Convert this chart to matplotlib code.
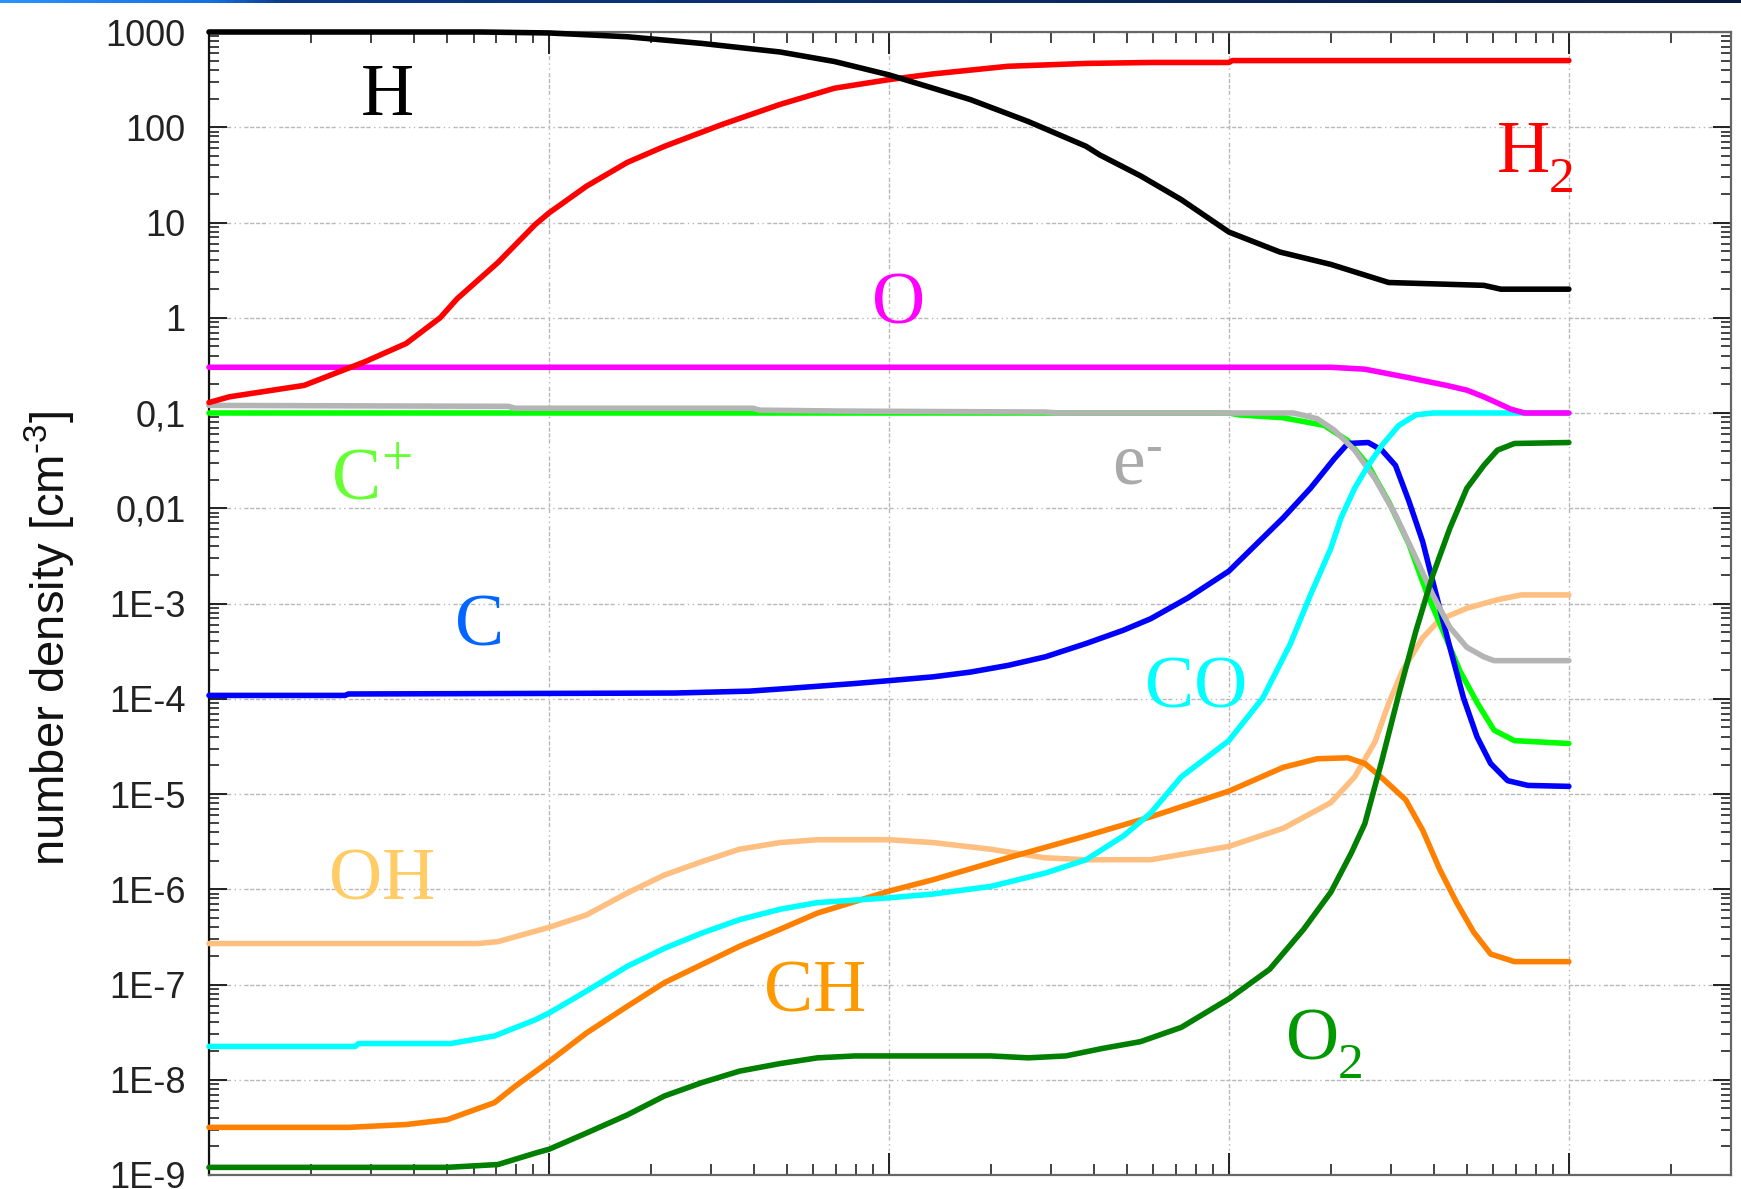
import numpy as np
import matplotlib
matplotlib.use("Agg")
import matplotlib.pyplot as plt
from matplotlib.ticker import FixedLocator, LogLocator, NullFormatter
from matplotlib.colors import LinearSegmentedColormap

# ---------------- data (log10 x, log10 number density) ----------------
H_x = [0, 0.8, 1.0, 1.23, 1.45, 1.68, 1.84, 2.0, 2.13, 2.24, 2.41, 2.58, 2.62, 2.74, 2.86,
       2.93, 3.0, 3.15, 3.30, 3.47, 3.75, 3.80, 4.0]
H_n = [3.0, 3.0, 2.99, 2.95, 2.88, 2.79, 2.69, 2.55, 2.41, 2.29, 2.06, 1.80, 1.71, 1.49, 1.24,
       1.07, 0.90, 0.69, 0.56, 0.37, 0.34, 0.30, 0.30]

H2_x = [0, 0.06, 0.28, 0.46, 0.58, 0.68, 0.73, 0.85, 0.96, 1.0, 1.11, 1.23, 1.34, 1.51, 1.68,
        1.84, 2.0, 2.13, 2.35, 2.58, 2.77, 3.0, 3.01, 4.0]
H2_n = [-0.89, -0.83, -0.71, -0.46, -0.27, 0.0, 0.20, 0.58, 0.98, 1.10, 1.38, 1.63, 1.80, 2.03,
        2.24, 2.41, 2.50, 2.56, 2.64, 2.67, 2.68, 2.68, 2.70, 2.70]

O_x = [0, 3.3, 3.4, 3.53, 3.64, 3.70, 3.75, 3.83, 3.87, 4.0]
O_n = [-0.52, -0.52, -0.54, -0.63, -0.71, -0.76, -0.83, -0.96, -1.0, -1.0]

Cp_x = [0, 3.0, 3.03, 3.16, 3.28, 3.35, 3.41, 3.47, 3.53, 3.58, 3.63, 3.68, 3.73, 3.78, 3.84, 4.0]
Cp_n = [-1.0, -1.0, -1.02, -1.05, -1.13, -1.29, -1.55, -1.93, -2.38, -2.87, -3.29, -3.71, -4.04,
        -4.33, -4.44, -4.47]

e_x = [0, 0.88, 0.9, 1.6, 1.62, 1.87, 2.46, 2.5, 3.19, 3.26, 3.31, 3.37, 3.43, 3.49, 3.55, 3.60,
       3.65, 3.70, 3.75, 3.78, 4.0]
e_n = [-0.92, -0.93, -0.95, -0.95, -0.97, -0.98, -0.99, -1.0, -1.0, -1.06, -1.18, -1.39, -1.69,
       -2.07, -2.52, -2.91, -3.25, -3.46, -3.56, -3.60, -3.60]

C_x = [0, 0.40, 0.41, 1.37, 1.59, 1.71, 1.9, 2.0, 2.13, 2.24, 2.35, 2.46, 2.58, 2.69, 2.77, 2.88,
       3.0, 3.06, 3.16, 3.24, 3.31, 3.35, 3.41, 3.45, 3.49, 3.53, 3.57, 3.61, 3.65, 3.69, 3.73,
       3.77, 3.82, 3.88, 4.0]
C_n = [-3.965, -3.965, -3.95, -3.94, -3.92, -3.89, -3.84, -3.81, -3.77, -3.72, -3.65, -3.56, -3.42,
       -3.28, -3.16, -2.94, -2.66, -2.45, -2.10, -1.79, -1.48, -1.32, -1.31, -1.39, -1.55, -1.93,
       -2.35, -2.91, -3.46, -3.99, -4.40, -4.68, -4.86, -4.91, -4.92]

CO_x = [0, 0.43, 0.44, 0.71, 0.84, 0.96, 1.0, 1.11, 1.23, 1.34, 1.45, 1.56, 1.68, 1.79, 2.0, 2.13,
        2.30, 2.46, 2.58, 2.69, 2.77, 2.86, 3.0, 3.10, 3.18, 3.24, 3.30, 3.33, 3.37, 3.41, 3.45,
        3.50, 3.55, 3.60, 4.0]
CO_n = [-7.65, -7.65, -7.62, -7.62, -7.54, -7.37, -7.30, -7.07, -6.81, -6.62, -6.46, -6.32, -6.21,
        -6.14, -6.09, -6.05, -5.97, -5.83, -5.69, -5.44, -5.20, -4.82, -4.44, -3.99, -3.43, -2.91,
        -2.42, -2.10, -1.79, -1.55, -1.34, -1.13, -1.02, -1.0, -1.0]

CH_x = [0, 0.41, 0.58, 0.70, 0.84, 0.90, 1.0, 1.11, 1.23, 1.34, 1.45, 1.56, 1.68, 1.79, 2.0, 2.13,
        2.35, 2.58, 2.77, 3.0, 3.16, 3.26, 3.35, 3.40, 3.45, 3.52, 3.57, 3.62, 3.67, 3.72, 3.77,
        3.84, 4.0]
CH_n = [-8.50, -8.50, -8.47, -8.42, -8.24, -8.07, -7.81, -7.51, -7.23, -6.98, -6.79, -6.60, -6.42,
        -6.25, -6.02, -5.90, -5.67, -5.44, -5.24, -4.97, -4.72, -4.63, -4.62, -4.68, -4.83, -5.06,
        -5.38, -5.79, -6.14, -6.45, -6.68, -6.76, -6.76]

OH_x = [0, 0.79, 0.85, 0.96, 1.0, 1.11, 1.23, 1.34, 1.45, 1.56, 1.68, 1.79, 2.0, 2.13, 2.30, 2.46,
        2.58, 2.77, 3.0, 3.16, 3.30, 3.37, 3.43, 3.47, 3.51, 3.57, 3.62, 3.70, 3.79, 3.86, 4.0]
OH_n = [-6.57, -6.57, -6.55, -6.44, -6.40, -6.27, -6.04, -5.85, -5.71, -5.58, -5.51, -5.48, -5.48,
        -5.51, -5.58, -5.67, -5.69, -5.69, -5.55, -5.36, -5.09, -4.82, -4.45, -4.05, -3.71, -3.36,
        -3.17, -3.05, -2.96, -2.91, -2.91]

O2_x = [0, 0.70, 0.85, 0.96, 1.0, 1.11, 1.23, 1.34, 1.45, 1.56, 1.68, 1.79, 1.90, 2.30, 2.41, 2.52,
        2.63, 2.74, 2.86, 3.0, 3.12, 3.22, 3.30, 3.36, 3.40, 3.45, 3.50, 3.55, 3.60, 3.65, 3.70,
        3.75, 3.79, 3.84, 4.0]
O2_n = [-8.92, -8.92, -8.89, -8.77, -8.73, -8.56, -8.37, -8.17, -8.03, -7.91, -7.83, -7.77, -7.75,
        -7.75, -7.77, -7.75, -7.67, -7.60, -7.45, -7.15, -6.84, -6.42, -6.03, -5.62, -5.31, -4.65,
        -3.95, -3.29, -2.70, -2.21, -1.79, -1.55, -1.39, -1.32, -1.31]

# x axis: log10 x offset so that the left edge of the axis is 10^-3
x_offset = -3
y_tick_vals = [1e-9, 1e-8, 1e-7, 1e-6, 1e-5, 1e-4, 1e-3, 1e-2, 1e-1, 1, 10, 100, 1000]
y_tick_labels = ["1E-9", "1E-8", "1E-7", "1E-6", "1E-5", "1E-4", "1E-3",
                 "0,01", "0,1", "1", "10", "100", "1000"]

series = [  # (x, n, line colour)
    (OH_x, OH_n, "#ffbf80"),
    (CH_x, CH_n, "#ff8000"),
    (Cp_x, Cp_n, "#00ff00"),
    (C_x, C_n, "#0000ff"),
    (e_x, e_n, "#b4b4b4"),
    (CO_x, CO_n, "#00ffff"),
    (O2_x, O2_n, "#007f00"),
    (O_x, O_n, "#ff00ff"),
    (H2_x, H2_n, "#ff0000"),
    (H_x, H_n, "#000000"),
]

# ---------------- figure ----------------
plt.rcParams["font.family"] = ["Liberation Sans", "DejaVu Sans"]
plt.rcParams["mathtext.fontset"] = "custom"
plt.rcParams["mathtext.rm"] = "Liberation Sans"
plt.rcParams["mathtext.default"] = "regular"

W, Hpx = 1741, 1189
fig = plt.figure(figsize=(W / 100, Hpx / 100), dpi=100)
fig.patch.set_facecolor("white")

# thin gradient bar at the very top
bar = fig.add_axes([0, 1 - 3 / Hpx, 1, 3 / Hpx])
cmap = LinearSegmentedColormap.from_list(
    "bar", [(0, "#2a92ff"), (0.12, "#1470e0"), (0.16, "#0c3a8a"), (1, "#0a1a3c")])
bar.imshow(np.linspace(0, 1, 400)[None, :], aspect="auto", cmap=cmap)
bar.set_axis_off()

L, R, T, B = 209, 1731, 32, 1175
ax = fig.add_axes([L / W, 1 - B / Hpx, (R - L) / W, (B - T) / Hpx])
ax.set_xscale("log")
ax.set_yscale("log")
ax.set_xlim(10 ** x_offset, 10 ** (x_offset + 4.477))
ax.set_ylim(1e-9, 1e3)

for xs, ns, col in series:
    ax.plot(10 ** (np.array(xs) + x_offset), 10 ** np.array(ns), color=col, lw=4.0,
            solid_joinstyle="round", solid_capstyle="round", zorder=3, clip_on=False)

# ticks
ax.yaxis.set_major_locator(FixedLocator(y_tick_vals))
ax.set_yticklabels(y_tick_labels)
ax.yaxis.set_minor_locator(LogLocator(base=10, subs=np.arange(2, 10), numticks=100))
ax.yaxis.set_minor_formatter(NullFormatter())
ax.xaxis.set_major_locator(LogLocator(base=10, numticks=20))
ax.xaxis.set_minor_locator(LogLocator(base=10, subs=np.arange(2, 10), numticks=100))
ax.xaxis.set_minor_formatter(NullFormatter())
ax.tick_params(which="both", direction="in", top=True, right=True, colors="#222222")
ax.tick_params(axis="y", which="major", length=13, width=1.4, labelsize=26, pad=17)
ax.tick_params(axis="y", which="minor", length=7, width=1.2)
ax.tick_params(axis="x", which="major", length=16, width=1.4, labelbottom=False)
ax.tick_params(axis="x", which="minor", length=8, width=1.2)

for side, sp in ax.spines.items():
    sp.set_linewidth(1.6)
    sp.set_color("#111111" if side == "left" else "#666666")

ax.set_axisbelow(True)
ax.grid(True, which="major", color="#b8b8b8", lw=1.0,
        linestyle=(0, (3, 1.2, 3, 1.2, 3, 1.2, 3, 2.5, 1, 2.5, 1, 2.5)))

# y label
fig.text(50 / W, 1 - 638 / Hpx, "number density [cm$^{\u2010 3}$]", rotation=90,
         ha="center", va="center", fontsize=34, color="#111111")

# species labels (pixel positions: left, baseline)
serif = ["Liberation Serif", "DejaVu Serif"]


def lab(x, y, s, col, size=53):
    fig.text(x / W, 1 - y / Hpx, s, color=col, fontsize=size, family=serif,
             ha="left", va="baseline")


lab(361, 115, "H", "#000000")
lab(1497, 172, "H", "#ff0000")
lab(1549, 192, "2", "#ff0000", 37)
lab(872, 323, "O", "#ff00ff")
lab(332, 500, "C", "#66ff33")
lab(381, 475, "+", "#66ff33", 40)
lab(1112, 483, "e", "#aaaaaa")
lab(1145, 461, "-", "#aaaaaa", 36)
lab(455, 645, "C", "#0066ff")
lab(1145, 707, "CO", "#00ffff")
lab(329, 900, "OH", "#ffcc66")
lab(764, 1012, "CH", "#ff9900")
lab(1286, 1060, "O", "#009900")
lab(1338, 1078, "2", "#009900", 37)

fig.savefig("out.png", dpi=100, facecolor="white")
